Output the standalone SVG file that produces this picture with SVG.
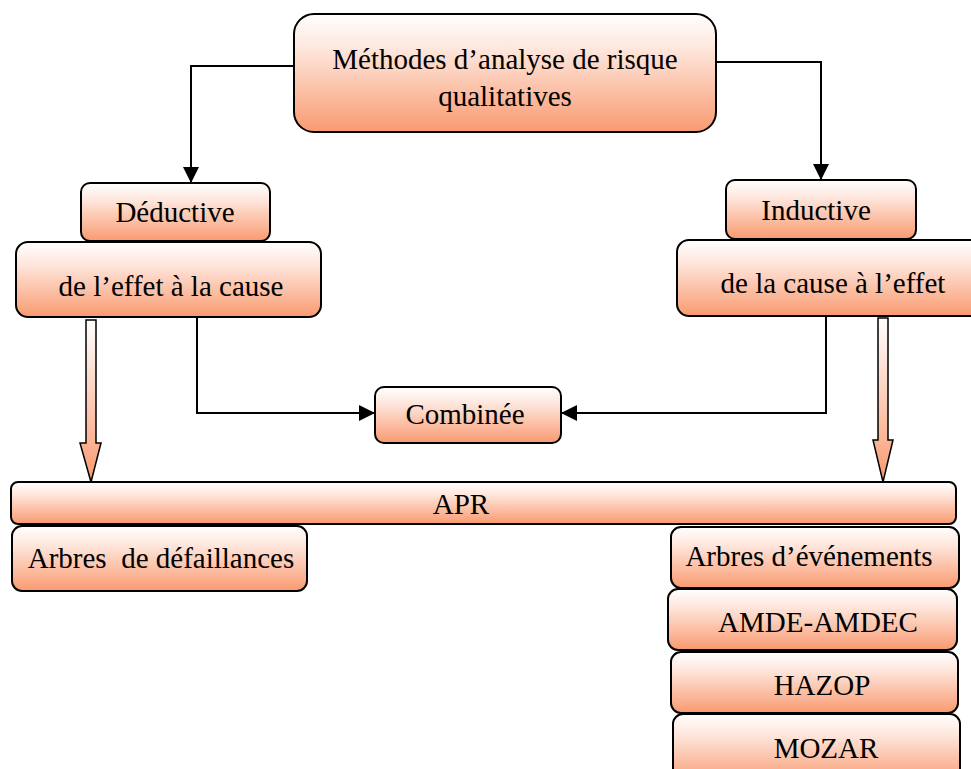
<svg xmlns="http://www.w3.org/2000/svg" width="971" height="769" viewBox="0 0 971 769">
  <defs>
    <linearGradient id="fill" x1="0" y1="0" x2="0" y2="1">
      <stop offset="0" stop-color="#ffffff"/>
      <stop offset="0.3" stop-color="#fee6dc"/>
      <stop offset="1" stop-color="#f99a70"/>
    </linearGradient>
    <linearGradient id="arrowFill" x1="0" y1="0" x2="0" y2="1">
      <stop offset="0" stop-color="#ffffff"/>
      <stop offset="1" stop-color="#f99a70"/>
    </linearGradient>
    <marker id="head" viewBox="0 0 16 16" refX="16" refY="8" markerWidth="16" markerHeight="16" markerUnits="userSpaceOnUse" orient="auto">
      <path d="M0,0 L16,8 L0,16 Z" fill="#000"/>
    </marker>
  </defs>
  <style>
    .box { fill: url(#fill); stroke: #000; stroke-width: 2; }
    .lbl { font-family: 'Liberation Serif', 'DejaVu Serif', serif; font-size: 29px; fill: #000; text-anchor: middle; }
    .wire { fill: none; stroke: #000; stroke-width: 2; }
    .fat { fill: url(#arrowFill); stroke: #000; stroke-width: 1.5; stroke-linejoin: miter; }
  </style>
  <rect width="971" height="769" fill="#fff"/>

  <g id="connectors">
    <path class="wire" d="M294,66 H191 V183" marker-end="url(#head)"/>
    <path class="wire" d="M716,62 H821 V180" marker-end="url(#head)"/>
    <path class="wire" d="M197,317 V413 H375" marker-end="url(#head)"/>
    <path class="wire" d="M826,316 V413 H561" marker-end="url(#head)"/>
    <path class="fat" d="M86,320 H96 V443 H101 L91,482 L80,443 H86 Z"/>
    <path class="fat" d="M878,318 H888 V440 H893 L883,482 L873,440 H878 Z"/>
  </g>

  <g id="methodes">
    <rect class="box" x="294" y="14" width="422" height="118" rx="20"/>
    <text class="lbl" x="505" y="69" font-family="Liberation Serif">Méthodes d’analyse de risque</text>
    <text class="lbl" x="505" y="106">qualitatives</text>
  </g>

  <g id="deductive">
    <rect class="box" x="81" y="183" width="189" height="58" rx="9"/>
    <text class="lbl" x="175" y="222">Déductive</text>
  </g>

  <g id="effet-cause">
    <rect class="box" x="16" y="242" width="305" height="75" rx="12"/>
    <text class="lbl" x="171" y="296">de l’effet à la cause</text>
  </g>

  <g id="inductive">
    <rect class="box" x="726" y="180" width="190" height="59" rx="9"/>
    <text class="lbl" x="816" y="220">Inductive</text>
  </g>

  <g id="cause-effet">
    <rect class="box" x="677" y="240" width="310" height="76" rx="12"/>
    <text class="lbl" x="833" y="293">de la cause à l’effet</text>
  </g>

  <g id="combinee">
    <rect class="box" x="375" y="387" width="186" height="56" rx="9"/>
    <text class="lbl" x="465" y="424">Combinée</text>
  </g>

  <g id="apr">
    <rect class="box" x="11" y="482" width="945" height="42" rx="7"/>
    <text class="lbl" x="461" y="514">APR</text>
  </g>

  <g id="arbres-defaillances">
    <rect class="box" x="12" y="526" width="295" height="65" rx="10"/>
    <text class="lbl" x="161" y="568" xml:space="preserve">Arbres  de défaillances</text>
  </g>

  <g id="arbres-evenements">
    <rect class="box" x="671" y="527" width="288" height="61" rx="10"/>
    <text class="lbl" x="809" y="566">Arbres d’événements</text>
  </g>

  <g id="amde-amdec">
    <rect class="box" x="668" y="589" width="289" height="61" rx="10"/>
    <text class="lbl" x="818" y="632">AMDE-AMDEC</text>
  </g>

  <g id="hazop">
    <rect class="box" x="671" y="652" width="287" height="61" rx="10"/>
    <text class="lbl" x="822" y="695">HAZOP</text>
  </g>

  <g id="mozar">
    <rect class="box" x="673" y="714" width="287" height="70" rx="10"/>
    <text class="lbl" x="826" y="758">MOZAR</text>
  </g>
</svg>
